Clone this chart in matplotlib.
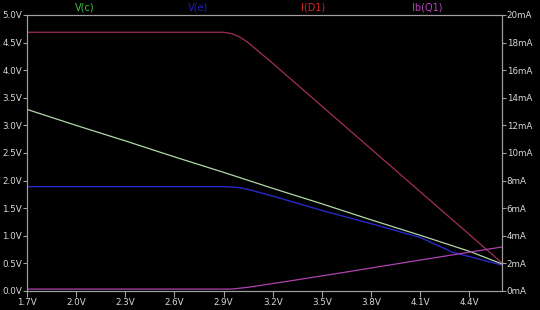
import numpy as np
import matplotlib
matplotlib.use('Agg')
import matplotlib.pyplot as plt
from matplotlib.ticker import FuncFormatter

# sweep voltage (V) and traces
vx_c = [1.7, 2.0, 2.3, 2.6, 2.9, 3.2, 3.5, 3.8, 4.1, 4.4, 4.6]
v_c = [3.29, 3.00, 2.72, 2.43, 2.15, 1.86, 1.58, 1.29, 1.01, 0.72, 0.49]

vx_e = [1.7, 2.9, 2.95, 3.0, 3.05, 3.2, 3.5, 3.8, 4.1, 4.3, 4.6]
v_e = [1.89, 1.89, 1.885, 1.87, 1.84, 1.72, 1.46, 1.22, 0.97, 0.70, 0.47]

vx_d = [1.7, 2.9, 2.95, 3.0, 3.05, 3.2, 3.5, 3.8, 4.1, 4.4, 4.6]
i_d1 = [18.75, 18.75, 18.65, 18.4, 18.0, 16.5, 13.4, 10.3, 7.2, 4.1, 2.03]

vx_b = [1.7, 2.95, 3.05, 3.3, 3.61, 4.0, 4.3, 4.6]
ib_q1 = [0.14, 0.14, 0.27, 0.72, 1.30, 2.05, 2.62, 3.19]

xticks = [1.7, 2.0, 2.3, 2.6, 2.9, 3.2, 3.5, 3.8, 4.1, 4.4]

axis_col = '#a0a0a0'
text_col = '#d8d8d8'

fig = plt.figure(figsize=(5.4, 3.1), dpi=100, facecolor='black')
ax = fig.add_axes([27/540, 19/310, 475/540, 276/310], facecolor='black')
ax2 = ax.twinx()

ax.plot(vx_e, v_e, color='#2828c8', lw=1.0)
ax.plot(vx_c, v_c, color='#b0d8a8', lw=0.9)
ax2.plot(vx_d, i_d1, color='#a03050', lw=0.9)
ax2.plot(vx_b, ib_q1, color='#b040b0', lw=0.9)

ax.set_xlim(1.7, 4.6)
ax.set_ylim(0, 5)
ax2.set_ylim(0, 20)
ax.set_xticks(xticks)
ax.set_yticks(np.arange(0, 5.01, 0.5))
ax2.set_yticks(np.arange(0, 20.1, 2))
ax.xaxis.set_major_formatter(FuncFormatter(lambda v, p: '{:.1f}V'.format(v)))
ax.yaxis.set_major_formatter(FuncFormatter(lambda v, p: '{:.1f}V'.format(v)))
ax2.yaxis.set_major_formatter(FuncFormatter(lambda v, p: '{:.0f}mA'.format(v)))

for a in (ax, ax2):
    for s in a.spines.values():
        s.set_color(axis_col)
        s.set_linewidth(0.8)
    a.tick_params(colors=axis_col, labelcolor=text_col, labelsize=6.3, length=3, width=0.8, pad=0.5)
ax.tick_params(axis='x', length=4, pad=1)

fig.text(85/540, 1 - 8/310, 'V(c)', color='#40c040', fontsize=7, ha='center', va='center')
fig.text(198/540, 1 - 8/310, 'V(e)', color='#2020c0', fontsize=7, ha='center', va='center')
fig.text(313/540, 1 - 8/310, 'I(D1)', color='#d02828', fontsize=7, ha='center', va='center')
fig.text(427/540, 1 - 8/310, 'Ib(Q1)', color='#c040c0', fontsize=7, ha='center', va='center')

plt.savefig('out.png', dpi=100, facecolor='black')
